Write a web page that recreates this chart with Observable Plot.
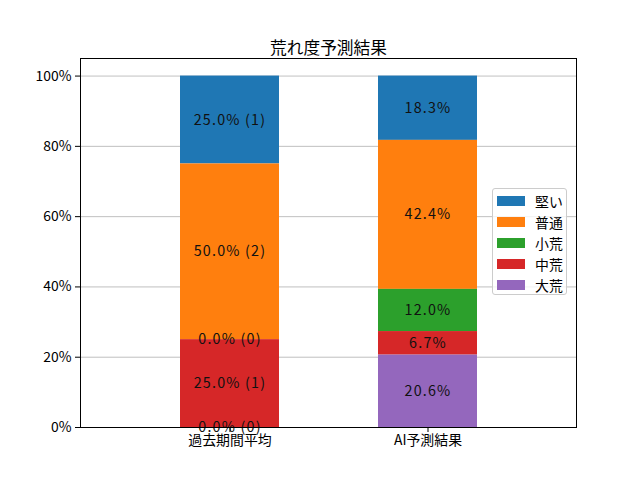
<!DOCTYPE html>
<html>
<head>
<meta charset="utf-8">
<script src="https://cdn.jsdelivr.net/npm/d3@7"></script>
<script src="https://cdn.jsdelivr.net/npm/@observablehq/plot@0.6"></script>
<style>
  html, body { margin: 0; padding: 0; background: white; }
  #wrap { position: relative; width: 640px; height: 480px; font-family: 'Noto Sans CJK JP', sans-serif; }
  #legend { position: absolute; left: 492px; top: 188px; width: 75px; height: 107px;
    border: 1px solid #cccccc; border-radius: 3px; background: rgba(255,255,255,0.8); box-sizing: border-box; }
  .row { position: absolute; left: 4px; height: 21px; display: flex; align-items: center; font-size: 13.9px; color: black; }
  .sw { width: 28px; height: 10px; margin-right: 10px; }
  g.barlabels text { letter-spacing: 1.2px; }
</style>
</head>
<body>
<div id="wrap"></div>
<script>
const title = "荒れ度予測結果";
const categories = ["過去期間平均", "AI予測結果"];
const types = ["堅い", "普通", "小荒", "中荒", "大荒"];          // legend order
const stackOrder = ["大荒", "中荒", "小荒", "普通", "堅い"];     // bottom to top
const colors = ["#1f77b4", "#ff7f0e", "#2ca02c", "#d62728", "#9467bd"];
const pastPct = [25.0, 50.0, 0.0, 25.0, 0.0];
const pastCount = [1, 2, 0, 1, 0];
const aiPct = [18.3, 42.4, 12.0, 6.7, 20.6];
const yTicks = [0, 20, 40, 60, 80, 100];

const data = [];
types.forEach((t, i) => {
  data.push({cat: categories[0], type: t, value: pastPct[i], label: `${pastPct[i].toFixed(1)}% (${pastCount[i]})`});
});
types.forEach((t, i) => {
  data.push({cat: categories[1], type: t, value: aiPct[i], label: `${aiPct[i].toFixed(1)}%`});
});

const chart = Plot.plot({
  width: 640,
  height: 480,
  marginLeft: 80,
  marginRight: 64,
  marginTop: 58,
  marginBottom: 53,
  style: {fontFamily: "'Noto Sans CJK JP', sans-serif", fontSize: "13.9px", background: "white", color: "black"},
  x: {domain: categories, padding: 0.5, label: null},
  y: {domain: [0, 105], label: null},
  color: {domain: types, range: colors},
  marks: [
    Plot.gridY(yTicks, {stroke: "#b0b0b0", strokeOpacity: 1, strokeWidth: 0.8}),
    Plot.barY(data, {x: "cat", y: "value", fill: "type", order: stackOrder, inset: 0}),
    Plot.text(data, Plot.stackY({x: "cat", y: "value", z: "type", order: stackOrder, text: "label", fill: "#111", fontSize: 14.3, className: "barlabels"})),
    Plot.axisY(yTicks, {tickFormat: d => d + "%", tickSize: 5, tickPadding: 4, label: null, fontSize: 13.9}),
    Plot.axisX({tickSize: 5, tickPadding: 3, label: null, fontSize: 13.9}),
    Plot.frame({stroke: "black", strokeWidth: 1}),
    Plot.text([title], {frameAnchor: "top", dy: -16, fontSize: 16.7, fill: "black"})
  ]
});

const wrap = document.getElementById("wrap");
wrap.appendChild(chart);

const legend = document.createElement("div");
legend.id = "legend";
types.forEach((t, i) => {
  const row = document.createElement("div");
  row.className = "row";
  row.style.top = (1 + i * 21.2) + "px";
  const sw = document.createElement("div");
  sw.className = "sw";
  sw.style.background = colors[i];
  const lab = document.createElement("span");
  lab.textContent = t;
  row.appendChild(sw);
  row.appendChild(lab);
  legend.appendChild(row);
});
wrap.appendChild(legend);
</script>
</body>
</html>
